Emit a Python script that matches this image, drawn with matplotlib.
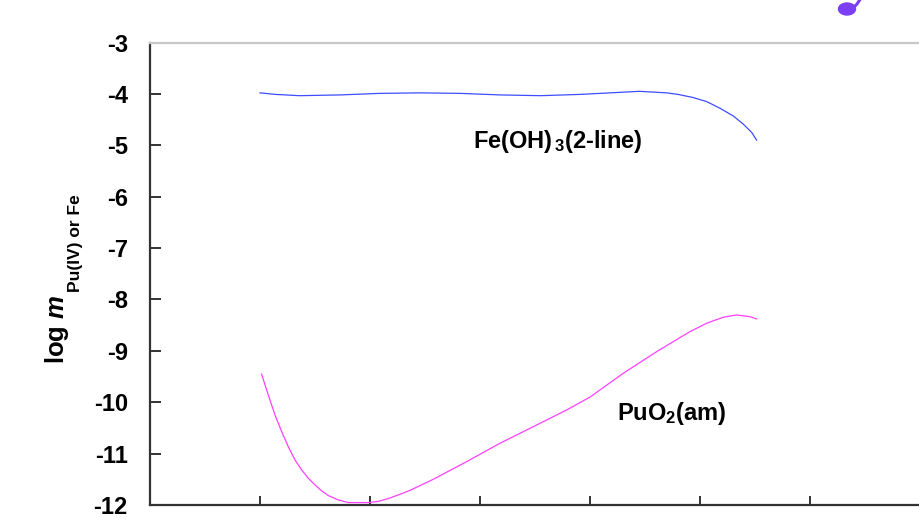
import matplotlib
matplotlib.use("Agg")
import matplotlib.pyplot as plt
from matplotlib.patches import Ellipse
from matplotlib.lines import Line2D

# Fe(OH)3(2-line) curve
fe_x = [1.0, 1.14, 1.36, 1.73, 2.09, 2.45, 2.82, 3.18, 3.55, 3.91, 4.18, 4.45,
        4.697, 4.8, 4.936, 5.061, 5.182, 5.303, 5.394, 5.47, 5.515]
fe_logm = [-3.98, -4.01, -4.035, -4.02, -3.99, -3.98, -3.99, -4.02, -4.035, -4.01,
           -3.98, -3.95, -3.98, -4.01, -4.07, -4.15, -4.28, -4.43, -4.59, -4.75, -4.90]

# PuO2(am) curve
pu_x = [1.015, 1.075, 1.136, 1.197, 1.257, 1.318, 1.379, 1.439, 1.5, 1.561, 1.621,
        1.712, 1.803, 1.985, 2.075, 2.166, 2.288, 2.364, 2.575, 2.879, 3.182, 3.485,
        3.788, 4.0, 4.303, 4.606, 4.909, 5.061, 5.212, 5.333, 5.455, 5.515]
pu_logm = [-9.455, -9.858, -10.247, -10.572, -10.864, -11.123, -11.317, -11.479,
           -11.609, -11.726, -11.817, -11.901, -11.953, -11.953, -11.930, -11.875,
           -11.780, -11.715, -11.500, -11.156, -10.798, -10.475, -10.150, -9.900,
           -9.436, -9.016, -8.626, -8.463, -8.346, -8.302, -8.335, -8.379]

x_ticks = [1, 2, 3, 4, 5, 6]
y_ticks = [-12, -11, -10, -9, -8, -7, -6, -5, -4, -3]

plt.rcParams["font.family"] = ["Liberation Sans", "DejaVu Sans"]
plt.rcParams["font.weight"] = "bold"
plt.rcParams["mathtext.fontset"] = "custom"
plt.rcParams["mathtext.rm"] = "Liberation Sans:bold"
plt.rcParams["mathtext.it"] = "Liberation Sans:italic:bold"
plt.rcParams["mathtext.bf"] = "Liberation Sans:bold"

W, H = 919, 519
fig = plt.figure(figsize=(W / 100, H / 100), dpi=100)
ax = fig.add_axes([150 / W, 14 / H, 769 / W, 462.5 / H])

ax.plot(fe_x, fe_logm, color="#3d4dff", lw=0.9)
ax.plot(pu_x, pu_logm, color="#ff40ff", lw=0.9)

ax.set_xlim(0, 769 / 110)
ax.set_ylim(-12, -3)
ax.set_xticks(x_ticks)
ax.set_xticklabels([])
ax.set_yticks(y_ticks)
ax.set_yticklabels([str(v) for v in y_ticks], fontsize=17, fontweight="bold")

ax.spines["right"].set_visible(False)
ax.spines["top"].set_color("#c8c8c8")
ax.spines["top"].set_linewidth(1.6)
for side in ["left", "bottom"]:
    ax.spines[side].set_color("#333333")
    ax.spines[side].set_linewidth(1.6)
ax.tick_params(axis="y", direction="in", length=8, width=1.4, color="#333333", pad=16)
ax.tick_params(axis="x", direction="in", length=6.5, width=1.4, color="#333333")

ax.text(2.94, -5.05, r"Fe(OH)$_{\,3}$(2-line)", fontsize=17, fontweight="bold",
        ha="left", va="baseline")
ax.text(4.245, -10.34, r"PuO$_{2}$(am)", fontsize=17, fontweight="bold",
        ha="left", va="baseline")

# y label: "log m" with a smaller subscript, drawn as two rotated texts
fig.text(64 / W, 1 - 364 / H, r"log $m$", rotation=90, rotation_mode="anchor",
         fontsize=18.5, ha="left", va="baseline")
fig.text(80 / W, 1 - 292 / H, "Pu(IV) or Fe", rotation=90, rotation_mode="anchor",
         fontsize=12.5, ha="left", va="baseline")

# purple mark cut off at the top edge
fig.patches.append(Ellipse((847 / W, 1 - 9 / H), 17 / W, 12 / H,
                           transform=fig.transFigure, color="#7b3ff5"))
fig.lines.append(Line2D([853 / W, 857 / W, 861 / W], [1 - 8 / H, 1 - 4 / H, 1 + 2 / H],
                        transform=fig.transFigure, color="#7b3ff5", lw=2.2))

fig.savefig("out.png", dpi=100)
